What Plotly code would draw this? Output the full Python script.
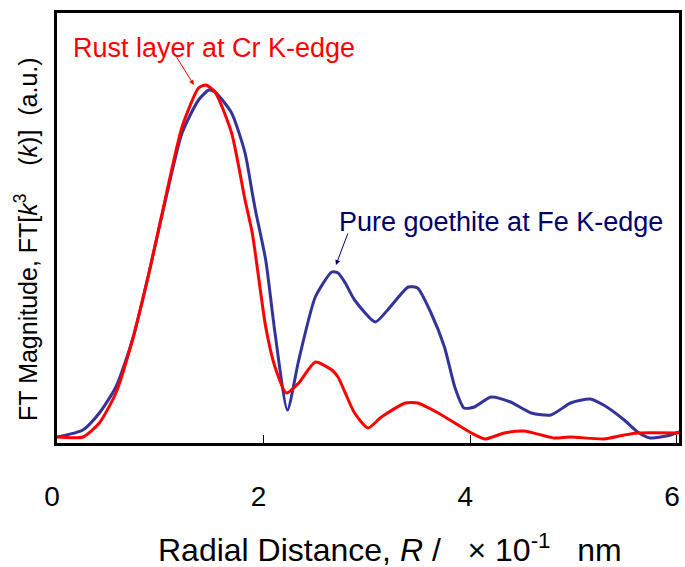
import plotly.graph_objects as go

# Radial distance R (x10^-1 nm) and FT magnitude (arbitrary units)
r_cr = [0.0, 0.25, 0.41, 0.57, 0.73, 0.89, 1.05, 1.21, 1.37, 1.44, 1.53, 1.69, 1.82, 1.89,
        2.02, 2.11, 2.22, 2.34, 2.50, 2.66, 2.72, 2.79, 2.88, 3.01, 3.14, 3.37, 3.49, 3.69,
        4.01, 4.14, 4.33, 4.52, 4.81, 4.97, 5.29, 5.49, 5.62, 6.02]
ft_cr = [6, 6, 20, 50, 103, 170, 245, 316, 355, 358, 351, 310, 243, 210,
         116, 76, 50, 60, 81, 73, 66, 50, 30, 15, 26, 40, 40, 30,
         10, 4, 10, 12, 5, 6, 4, 8, 10, 10]

r_fe = [0.0, 0.25, 0.41, 0.57, 0.73, 0.89, 1.05, 1.21, 1.37, 1.47, 1.53, 1.69, 1.82, 1.89,
        1.92, 2.02, 2.11, 2.23, 2.34, 2.50, 2.66, 2.72, 2.79, 2.88, 3.08, 3.20, 3.40, 3.49,
        3.62, 3.75, 3.85, 3.94, 4.04, 4.20, 4.39, 4.59, 4.78, 4.97, 5.16, 5.29, 5.49, 5.62,
        5.74, 5.94, 6.02]
ft_fe = [6, 13, 30, 56, 103, 170, 243, 310, 343, 353, 351, 330, 290, 250,
         233, 183, 110, 33, 83, 146, 171, 170, 160, 143, 121, 133, 156, 155,
         130, 96, 56, 35, 36, 46, 41, 30, 28, 40, 44, 38, 23, 11,
         5, 8, 11]

x_ticks = [0, 2, 4, 6]

RED = "#ff0000"
BLUE = "#333399"
NAVY = "#000066"
FONT = "Liberation Sans, Arial, sans-serif"
SP = "\u00a0"

fig = go.Figure()
fig.add_trace(go.Scatter(x=r_fe, y=ft_fe, mode="lines",
                         line=dict(color=BLUE, width=3, shape="spline", smoothing=0.6),
                         showlegend=False))
fig.add_trace(go.Scatter(x=r_cr, y=ft_cr, mode="lines",
                         line=dict(color=RED, width=3, shape="spline", smoothing=0.6),
                         showlegend=False))

fig.update_layout(
    width=685, height=567,
    margin=dict(l=57, r=3, t=13, b=124),
    paper_bgcolor="white", plot_bgcolor="white",
    font=dict(family=FONT, color="black"),
    xaxis=dict(range=[0, 6.02], tickvals=x_ticks, ticktext=[str(t) for t in x_ticks],
               ticks="inside", ticklen=8, tickwidth=1, tickcolor="black",
               showline=True, linewidth=3, linecolor="black", mirror=True,
               showgrid=False, zeroline=False,
               tickfont=dict(size=28, family=FONT, color="black"),
               ticklabelstandoff=26, ticklabelshift=-5),
    yaxis=dict(range=[0, 430], showticklabels=False, ticks="",
               showline=True, linewidth=3, linecolor="black", mirror=True,
               showgrid=False, zeroline=False),
    annotations=[
        dict(text=f"Radial Distance, <i>R</i> /{SP*3}× 10<sup>-1</sup>{SP*3}nm",
             xref="paper", yref="paper", x=0.536, y=-0.244,
             xanchor="center", yanchor="middle", showarrow=False,
             font=dict(size=32, family=FONT, color="black")),
        dict(text=f"FT Magnitude, FT[<i>k</i><sup>3</sup>{SP*4}(<i>k</i>)]{SP*2}(a.u.)",
             xref="paper", yref="paper", x=-0.0496, y=0.475, textangle=-90,
             xanchor="center", yanchor="middle", showarrow=False,
             font=dict(size=25, family=FONT, color="black")),
        dict(text="Rust layer at Cr K-edge", xref="x", yref="y",
             x=1.52, y=395, xanchor="center", yanchor="middle", showarrow=False,
             font=dict(size=27, family=FONT, color=RED)),
        dict(text="Pure goethite at Fe K-edge", xref="x", yref="y",
             x=4.30, y=221, xanchor="center", yanchor="middle", showarrow=False,
             font=dict(size=27, family=FONT, color=NAVY)),
        dict(text="", xref="x", yref="y", x=1.325, y=358,
             axref="x", ayref="y", ax=1.133, ay=390,
             showarrow=True, arrowhead=2, arrowsize=1, arrowwidth=1, arrowcolor=RED),
        dict(text="", xref="x", yref="y", x=2.70, y=178,
             axref="x", ayref="y", ax=2.82, ay=211,
             showarrow=True, arrowhead=2, arrowsize=1, arrowwidth=1, arrowcolor=NAVY),
    ],
)

fig.write_html("out.html", config={"displayModeBar": False},
               post_script="document.body.style.margin='0';document.body.style.overflow='hidden';")
